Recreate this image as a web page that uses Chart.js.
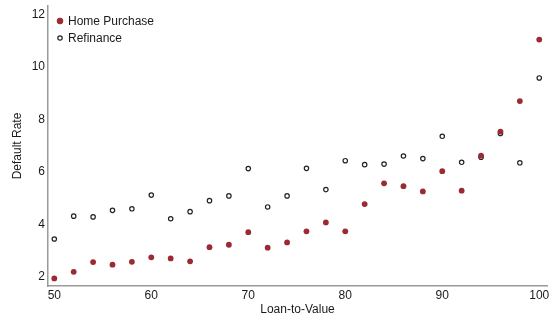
<!DOCTYPE html>
<html>
<head>
<meta charset="utf-8">
<script src="https://cdn.jsdelivr.net/npm/chart.js@4/dist/chart.umd.min.js"></script>
<style>
  html, body { margin: 0; padding: 0; background: #fff; }
  #wrap { width: 552px; height: 320px; }
</style>
</head>
<body>
<div id="wrap"><canvas id="c" width="552" height="320"></canvas></div>
<script>
// Loan-to-value buckets (percent)
const ltv = [50, 52, 54, 56, 58, 60, 62, 64, 66, 68, 70, 72, 74, 76, 78, 80, 82, 84, 86, 88, 90, 92, 94, 96, 98, 100];

// Default rates (percent) by loan purpose
const homePurchase = [1.95, 2.20, 2.57, 2.47, 2.58, 2.75, 2.71, 2.60, 3.14, 3.23, 3.71, 3.12, 3.32, 3.74, 4.08, 3.74, 4.78, 5.57, 5.46, 5.26, 6.03, 5.29, 6.62, 7.54, 8.70, 11.04];
const refinance    = [3.45, 4.32, 4.29, 4.54, 4.60, 5.12, 4.22, 4.49, 4.91, 5.09, 6.13, 4.67, 5.09, 6.14, 5.33, 6.43, 6.28, 6.30, 6.61, 6.51, 7.36, 6.37, 6.56, 7.47, 6.35, 9.58];

const xTicks = [50, 60, 70, 80, 90, 100];
const yTicks = [2, 4, 6, 8, 10, 12];

const seriesNames = ['Home Purchase', 'Refinance'];

const RED = '#9b2a33';
const INK = '#1a1a1a';
const AXIS = '#9a9a9a';
const FONT = '"Liberation Sans", Arial, Helvetica, sans-serif';

const toPoints = (ys) => ltv.map((x, i) => ({ x: x, y: ys[i] }));

// Legend drawn inside the plotting area, top-left
const insideLegend = {
  id: 'insideLegend',
  afterDraw(chart) {
    const ctx = chart.ctx;
    const x0 = chart.chartArea.left + 12;
    const y0 = chart.chartArea.top + 15;
    const gap = 17;
    ctx.save();
    ctx.font = '12px ' + FONT;
    ctx.textBaseline = 'middle';
    ctx.textAlign = 'left';
    chart.data.datasets.forEach((ds, i) => {
      const y = y0 + i * gap;
      ctx.beginPath();
      ctx.arc(x0, y, ds.pointRadius, 0, Math.PI * 2);
      ctx.fillStyle = ds.backgroundColor;
      ctx.fill();
      ctx.lineWidth = ds.borderWidth;
      ctx.strokeStyle = ds.borderColor;
      ctx.stroke();
      ctx.fillStyle = INK;
      ctx.fillText(ds.label, x0 + 8, y + 0.5);
    });
    ctx.restore();
  }
};

new Chart(document.getElementById('c'), {
  type: 'scatter',
  data: {
    datasets: [
      {
        label: seriesNames[0],
        data: toPoints(homePurchase),
        backgroundColor: RED,
        borderColor: RED,
        borderWidth: 0,
        pointRadius: 2.9,
        pointHoverRadius: 2.9
      },
      {
        label: seriesNames[1],
        data: toPoints(refinance),
        backgroundColor: 'rgba(255,255,255,0)',
        borderColor: '#222222',
        borderWidth: 1.2,
        pointRadius: 2.2,
        pointHoverRadius: 2.2
      }
    ]
  },
  options: {
    responsive: false,
    animation: false,
    devicePixelRatio: 1,
    layout: { padding: { top: 6, right: 5, left: 0, bottom: 0 } },
    plugins: {
      legend: { display: false },
      tooltip: { enabled: false }
    },
    scales: {
      x: {
        type: 'linear',
        min: 49.35,
        max: 100.8,
        afterBuildTicks: (s) => { s.ticks = xTicks.map(v => ({ value: v })); },
        afterFit: (s) => { s.height = 34; },
        grid: { display: false, drawTicks: false },
        border: { display: true, color: AXIS, width: 1.5 },
        ticks: { color: INK, font: { family: FONT, size: 12 }, padding: 2, maxRotation: 0 },
        title: { display: true, text: 'Loan-to-Value', color: INK, font: { family: FONT, size: 12 }, padding: { top: 2, bottom: 3 } }
      },
      y: {
        type: 'linear',
        min: 1.66,
        max: 12.32,
        afterBuildTicks: (s) => { s.ticks = yTicks.map(v => ({ value: v })); },
        afterFit: (s) => { s.width = 48; s.paddingTop = 0; s.paddingBottom = 0; },
        grid: { display: false, drawTicks: false },
        border: { display: true, color: AXIS, width: 1.5 },
        ticks: { color: INK, font: { family: FONT, size: 12 }, padding: 3 },
        title: { display: true, text: 'Default Rate', color: INK, font: { family: FONT, size: 12 }, padding: { top: 10, bottom: 2 } }
      }
    }
  },
  plugins: [insideLegend]
});
</script>
</body>
</html>
